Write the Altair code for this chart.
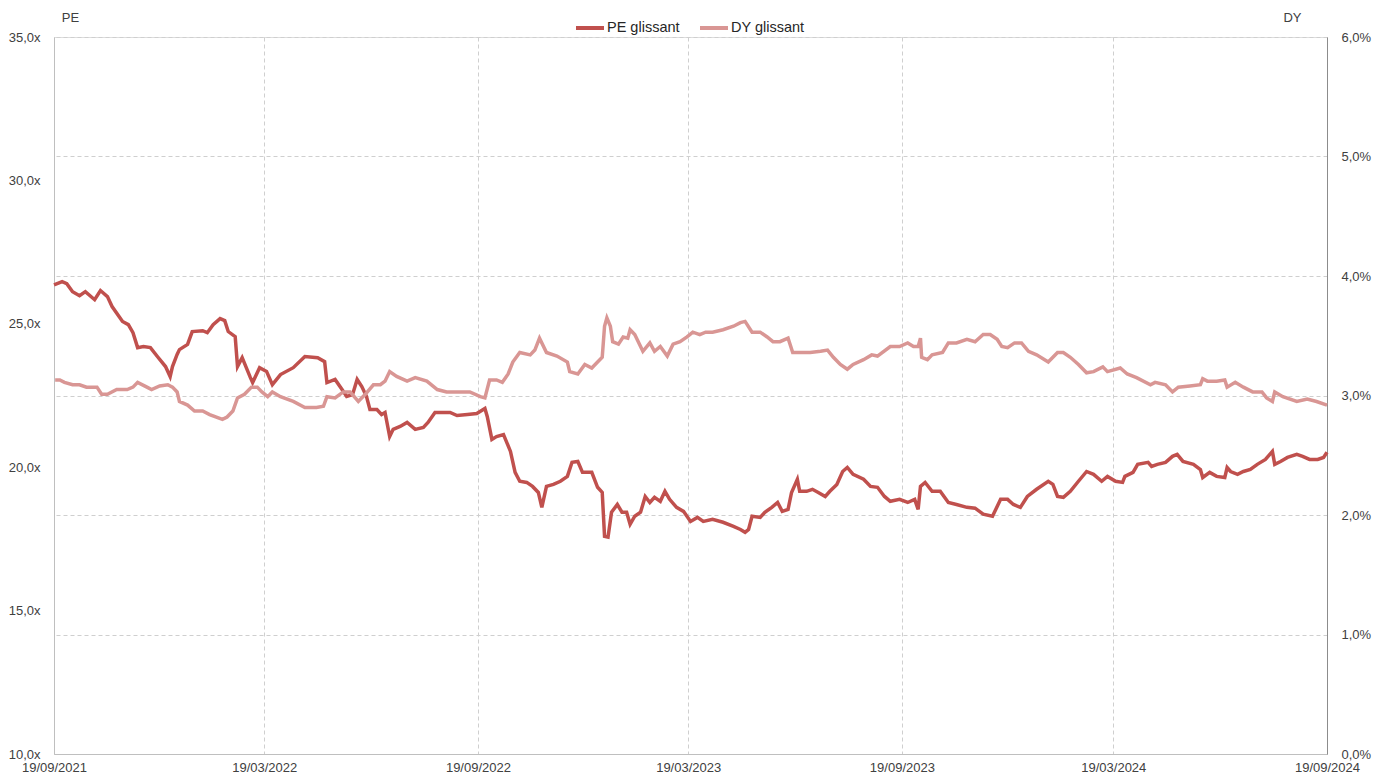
import altair as alt
import pandas as pd

# Day offsets from 19/09/2021 and values
pe_days = [0, 7, 11, 16, 22, 27, 35, 40, 46, 50, 59, 64, 68, 72, 77, 83, 89, 96, 100, 102,
           106, 108, 115, 119, 128, 132, 137, 143, 147, 150, 156, 158, 162, 169, 171, 177, 183, 188, 195, 206,
           216, 227, 233, 235, 242, 248, 252, 257, 261, 265, 269, 272, 278, 282, 285, 289, 292, 298, 304, 311,
           318, 322, 328, 335, 341, 347, 356, 364, 371, 373, 377, 381, 387, 393, 397, 401, 407, 412, 417, 420,
           424, 430, 436, 442, 446, 451, 455, 463, 468, 472, 474, 477, 480, 485, 489, 493, 496, 500, 505, 509,
           513, 517, 522, 526, 530, 536, 542, 548, 554, 559, 567, 576, 585, 591, 595, 598, 601, 608, 612, 618,
           623, 627, 632, 635, 640, 642, 648, 653, 658, 664, 668, 674, 679, 683, 688, 697, 703, 709, 715, 720,
           728, 735, 741, 744, 746, 750, 756, 763, 770, 777, 786, 793, 800, 808, 815, 821, 826, 832, 838, 846,
           856, 860, 864, 869, 875, 882, 889, 895, 902, 907, 914, 920, 922, 929, 933, 942, 945, 950, 957, 963,
           967, 972, 981, 987, 989, 995, 1001, 1008, 1010, 1013, 1019, 1024, 1030, 1036, 1043, 1049, 1051, 1056, 1062, 1070,
           1075, 1081, 1088, 1093, 1096]
pe_values = [26.36, 26.47, 26.40, 26.12, 25.98, 26.12, 25.84, 26.16, 25.95, 25.60, 25.08, 24.97, 24.69, 24.17, 24.21, 24.17, 23.86, 23.51, 23.16, 23.51,
             23.93, 24.10, 24.28, 24.73, 24.76, 24.69, 24.97, 25.18, 25.11, 24.73, 24.55, 23.51, 23.82, 23.13, 22.95, 23.47, 23.34, 22.88, 23.23, 23.47,
             23.86, 23.82, 23.68, 22.95, 23.06, 22.71, 22.47, 22.53, 23.06, 22.81, 22.47, 22.01, 22.01, 21.84, 21.91, 21.07, 21.32, 21.42, 21.56, 21.32,
             21.39, 21.56, 21.91, 21.91, 21.91, 21.80, 21.84, 21.87, 22.05, 21.77, 20.97, 21.07, 21.14, 20.55, 19.82, 19.51, 19.47, 19.33, 19.12, 18.60,
             19.33, 19.40, 19.51, 19.68, 20.17, 20.20, 19.82, 19.82, 19.30, 19.12, 17.59, 17.56, 18.43, 18.70, 18.43, 18.43, 18.01, 18.29, 18.43, 18.98,
             18.77, 18.95, 18.81, 19.16, 18.88, 18.60, 18.46, 18.11, 18.25, 18.11, 18.18, 18.08, 17.94, 17.83, 17.73, 17.83, 18.29, 18.25, 18.43, 18.60,
             18.77, 18.46, 18.53, 19.12, 19.58, 19.16, 19.16, 19.23, 19.12, 18.98, 19.16, 19.40, 19.85, 19.99, 19.75, 19.58, 19.33, 19.30, 18.98, 18.81,
             18.88, 18.77, 18.88, 18.53, 19.33, 19.47, 19.16, 19.16, 18.77, 18.70, 18.60, 18.57, 18.36, 18.29, 18.88, 18.88, 18.70, 18.60, 18.98, 19.23,
             19.51, 19.40, 18.98, 18.95, 19.16, 19.51, 19.85, 19.75, 19.51, 19.68, 19.51, 19.47, 19.68, 19.82, 20.10, 20.17, 20.03, 20.10, 20.17, 20.38,
             20.45, 20.20, 20.10, 19.92, 19.64, 19.82, 19.68, 19.64, 19.99, 19.85, 19.75, 19.85, 19.92, 20.10, 20.27, 20.55, 20.10, 20.20, 20.34, 20.45,
             20.38, 20.27, 20.27, 20.34, 20.52]

dy_days = [1, 5, 9, 16, 22, 28, 37, 41, 46, 54, 63, 68, 72, 80, 84, 91, 98, 102, 106, 108,
           115, 121, 128, 134, 145, 149, 154, 158, 164, 170, 175, 179, 184, 188, 195, 206, 216, 226, 232, 235,
           242, 249, 255, 262, 268, 275, 281, 285, 289, 295, 304, 311, 321, 330, 338, 350, 358, 367, 371, 375,
           381, 386, 391, 395, 401, 410, 414, 418, 424, 433, 442, 444, 451, 457, 463, 468, 472, 474, 476, 479,
           481, 486, 490, 494, 496, 500, 507, 513, 517, 522, 528, 533, 539, 545, 550, 556, 561, 567, 576, 585,
           591, 595, 601, 608, 614, 619, 625, 632, 636, 642, 651, 660, 666, 671, 677, 683, 688, 697, 704, 709,
           720, 728, 735, 740, 744, 746, 747, 752, 756, 765, 770, 777, 786, 793, 800, 806, 812, 816, 821, 827,
           833, 839, 846, 856, 864, 869, 875, 882, 889, 895, 903, 907, 918, 924, 932, 944, 948, 957, 963, 968,
           978, 987, 989, 993, 1001, 1008, 1010, 1017, 1024, 1032, 1040, 1044, 1049, 1051, 1058, 1070, 1079, 1087, 1096]
dy_values = [3.13, 3.13, 3.11, 3.09, 3.09, 3.07, 3.07, 3.01, 3.01, 3.05, 3.05, 3.07, 3.11, 3.07, 3.05, 3.08, 3.09, 3.07, 3.03, 2.95,
             2.92, 2.87, 2.87, 2.84, 2.80, 2.82, 2.87, 2.98, 3.01, 3.07, 3.07, 3.03, 2.99, 3.03, 2.99, 2.95, 2.90, 2.90, 2.91, 2.99,
             2.98, 3.03, 3.03, 2.95, 3.01, 3.09, 3.09, 3.12, 3.20, 3.16, 3.12, 3.15, 3.12, 3.05, 3.03, 3.03, 3.03, 2.99, 2.98, 3.13,
             3.13, 3.11, 3.18, 3.28, 3.36, 3.34, 3.38, 3.48, 3.36, 3.33, 3.28, 3.20, 3.18, 3.26, 3.23, 3.28, 3.32, 3.58, 3.65, 3.58,
             3.45, 3.43, 3.49, 3.48, 3.55, 3.51, 3.37, 3.44, 3.37, 3.41, 3.33, 3.43, 3.45, 3.49, 3.53, 3.51, 3.53, 3.53, 3.55, 3.58,
             3.61, 3.62, 3.53, 3.53, 3.49, 3.45, 3.45, 3.48, 3.36, 3.36, 3.36, 3.37, 3.38, 3.32, 3.26, 3.22, 3.26, 3.30, 3.34, 3.33,
             3.41, 3.41, 3.44, 3.41, 3.41, 3.48, 3.32, 3.30, 3.34, 3.36, 3.44, 3.44, 3.47, 3.45, 3.51, 3.51, 3.47, 3.41, 3.40, 3.44,
             3.44, 3.37, 3.34, 3.28, 3.36, 3.36, 3.32, 3.26, 3.19, 3.20, 3.24, 3.20, 3.23, 3.18, 3.15, 3.09, 3.11, 3.09, 3.03, 3.07,
             3.08, 3.09, 3.14, 3.12, 3.12, 3.13, 3.07, 3.11, 3.07, 3.03, 3.03, 2.98, 2.95, 3.03, 2.99, 2.95, 2.97, 2.95, 2.92]

series_names = ["PE glissant", "DY glissant"]
series_colors = ["#C0504D", "#D99694"]
x_tick_dates = [(2021, 9, 19), (2022, 3, 19), (2022, 9, 19), (2023, 3, 19),
                (2023, 9, 19), (2024, 3, 19), (2024, 9, 19)]
pe_ticks = [10, 15, 20, 25, 30, 35]
dy_ticks = [0, 1, 2, 3, 4, 5, 6]

start = pd.Timestamp("2021-09-19")


def make_frame(days, values, name):
    dates = (start + pd.to_timedelta(days, unit="D")).strftime("%Y-%m-%d")
    return pd.DataFrame({"date": list(dates), "value": values, "series": name})


df = pd.concat([make_frame(pe_days, pe_values, series_names[0]),
                make_frame(dy_days, dy_values, series_names[1])], ignore_index=True)

FONT = "Liberation Sans"
LABEL_COLOR = "#404040"
GRID_COLOR = "#CFCFCF"

tick_dt = [alt.DateTime(year=y, month=m, date=d, utc=True) for (y, m, d) in x_tick_dates]

x_enc = alt.X(
    "date:T",
    scale=alt.Scale(type="utc", domain=[tick_dt[0], tick_dt[-1]]),
    axis=alt.Axis(
        values=tick_dt, labelExpr="utcFormat(datum.value, '%d/%m/%Y')", title=None,
        grid=True, gridColor=GRID_COLOR, gridDash=[4, 3], gridWidth=1,
        domainColor="#BFBFBF", ticks=False, labelPadding=7.5,
        labelFlush=False, labelOverlap=False, labelBound=False,
        labelFont=FONT, labelFontSize=13, labelColor=LABEL_COLOR,
    ),
)

color_enc = alt.Color(
    "series:N",
    scale=alt.Scale(domain=series_names, range=series_colors),
    legend=alt.Legend(
        title=None, orient="none", legendX=520, legendY=-25, direction="horizontal",
        symbolType="stroke", symbolSize=784, symbolStrokeWidth=4,
        labelFont=FONT, labelFontSize=14.5, labelColor="#262626", labelOffset=1,
        columnPadding=12, padding=0,
    ),
)

pe_layer = alt.Chart(df).transform_filter(
    alt.datum.series == series_names[0]
).mark_line(strokeWidth=3.5, interpolate="linear").encode(
    x=x_enc,
    y=alt.Y(
        "value:Q",
        scale=alt.Scale(domain=[10, 35], nice=False, zero=False),
        axis=alt.Axis(
            orient="left", values=pe_ticks, grid=False, ticks=False,
            labelExpr="replace(format(datum.value, '.1f'), '.', ',') + 'x'",
            labelPadding=14, labelFont=FONT, labelFontSize=13, labelColor=LABEL_COLOR,
            labelFlush=False, labelOverlap=False, labelBound=False,
            domainColor="#BFBFBF",
            title="PE", titleAngle=0, titleX=16, titleY=-20, titleAlign="center",
            titleBaseline="middle", titleFont=FONT, titleFontSize=13,
            titleFontWeight="normal", titleColor=LABEL_COLOR,
        ),
    ),
    color=color_enc,
)

dy_layer = alt.Chart(df).transform_filter(
    alt.datum.series == series_names[1]
).mark_line(strokeWidth=3.5, interpolate="linear").encode(
    x=x_enc,
    y=alt.Y(
        "value:Q",
        scale=alt.Scale(domain=[0, 6], nice=False, zero=False),
        axis=alt.Axis(
            orient="right", values=dy_ticks, grid=True, gridColor=GRID_COLOR,
            gridDash=[4, 3], gridWidth=1, ticks=False,
            labelExpr="replace(format(datum.value, '.1f'), '.', ',') + '%'",
            labelPadding=14, labelFont=FONT, labelFontSize=13, labelColor=LABEL_COLOR,
            labelFlush=False, labelOverlap=False, labelBound=False,
            domainColor="#8C8C8C",
            title="DY", titleAngle=0, titleX=-35, titleY=-20, titleAlign="center",
            titleBaseline="middle", titleFont=FONT, titleFontSize=13,
            titleFontWeight="normal", titleColor=LABEL_COLOR,
        ),
    ),
    color=color_enc,
)

chart = alt.layer(pe_layer, dy_layer).resolve_scale(
    y="independent", color="shared"
).properties(
    width=1273, height=717,
    autosize=alt.AutoSizeParams(type="none"),
    padding={"left": 46, "top": 29, "right": 51, "bottom": 21},
).configure_view(stroke=None).configure(background="white")

chart.save("out.html", embed_options={"renderer": "svg", "actions": False})
